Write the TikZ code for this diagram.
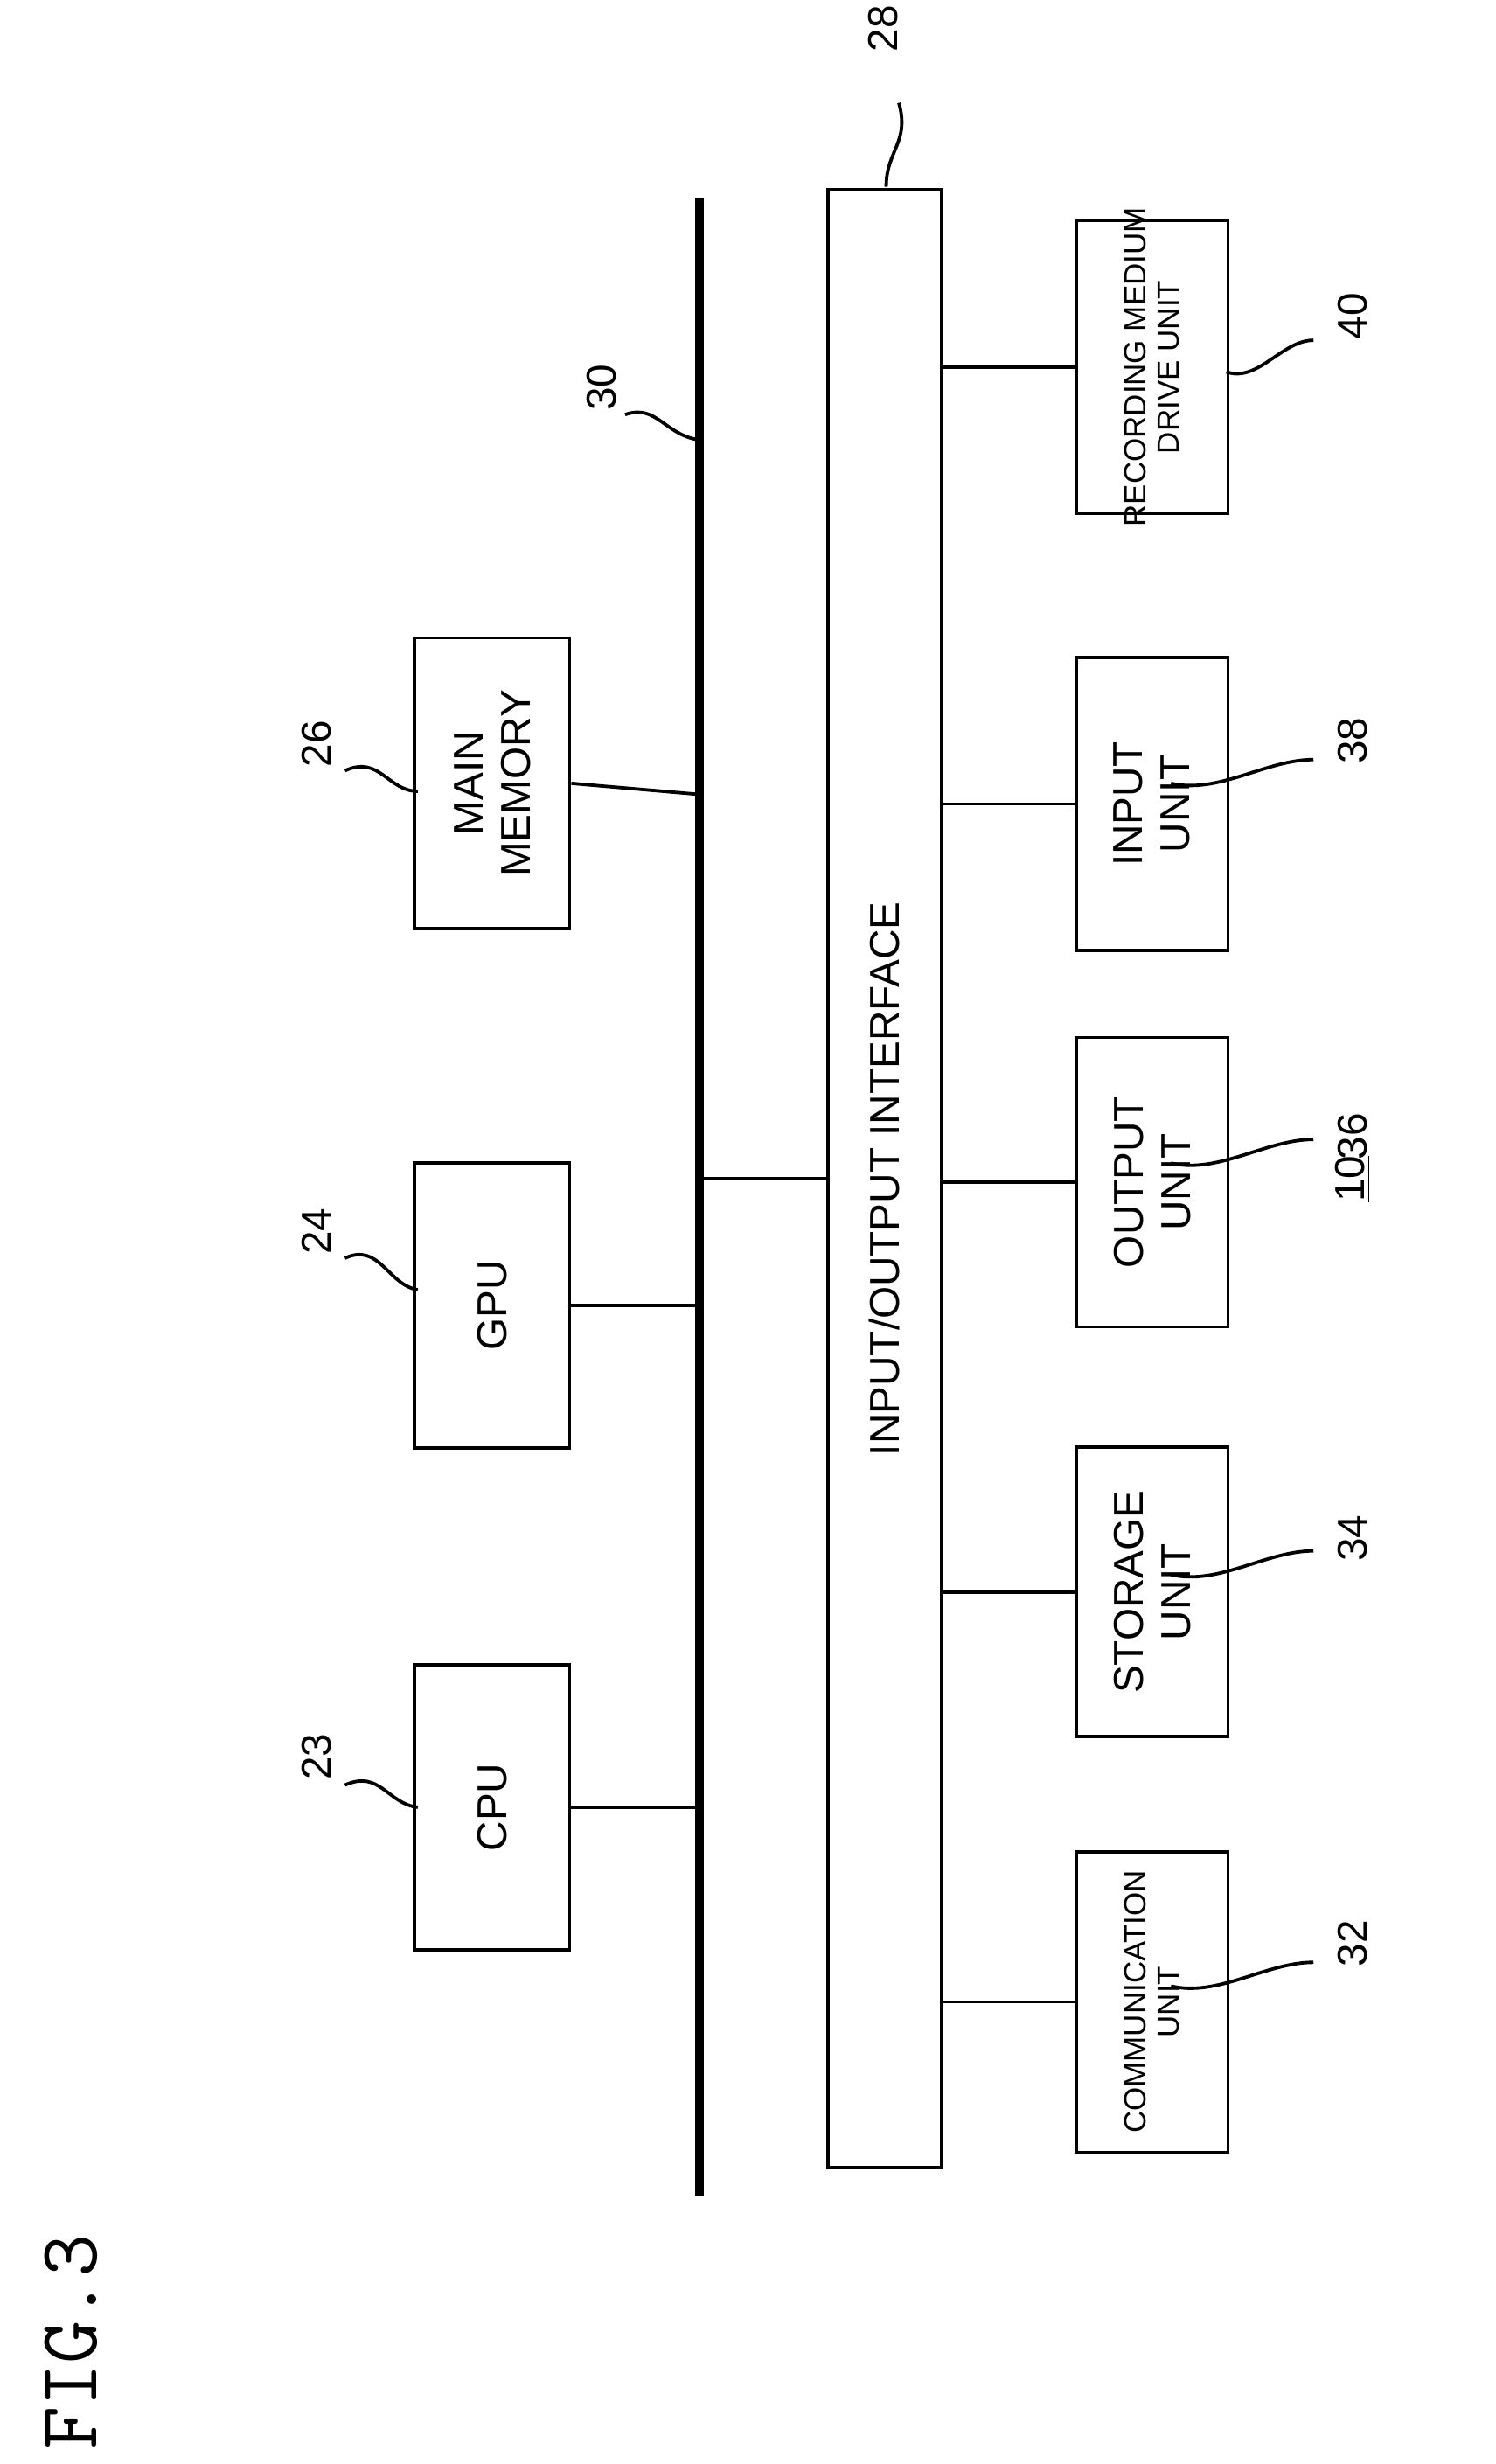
\documentclass[tikz,border=0pt]{standalone}
\usepackage{fontspec}
\setmainfont{Liberation Sans}
\begin{document}
\begin{tikzpicture}[x=0.02cm,y=-0.02cm,
 box/.style={draw,line width=1.2pt},
 ln/.style={line width=1.2pt},
 txt/.style={rotate=90,font=\fontsize{15}{17}\selectfont,align=center},
 stxt/.style={rotate=90,font=\fontsize{11}{12}\selectfont,align=center},
 lab/.style={rotate=90,font=\fontsize{15}{17}\selectfont},
 sq/.style={line width=1.2pt}]
\useasboundingbox (0,0) rectangle (945,1557);
% bus
\coordinate (bt) at (442,125); \coordinate (bb) at (442,1388);
\draw[line width=3pt] (bt) -- (bb);
% IO interface
\node[box,minimum width=1.44cm,minimum height=25cm] (io) at (559,745) {};
\node[txt] at (io) {INPUT/OUTPUT INTERFACE};
\draw[ln] (442,745) -- (io.west |- 0,745);
% upper boxes
\node[box,minimum width=1.96cm,minimum height=3.6cm] (cpu) at (311,1142) {}; \node[txt] at (cpu) {CPU};
\node[box,minimum width=1.96cm,minimum height=3.6cm] (gpu) at (311,825) {}; \node[txt] at (gpu) {GPU};
\node[box,minimum width=1.96cm,minimum height=3.68cm] (mem) at (311,495) {}; \node[txt] at (mem) {MAIN\\MEMORY};
\draw[ln] (cpu.east) -- (442,1142);
\draw[ln] (gpu.east) -- (442,825);
\draw[ln] (mem.east) -- (442,502);
% lower boxes
\node[box,minimum width=1.92cm,minimum height=3.8cm] (com) at (728,1265) {}; \node[stxt] at (com) {COMMUNICATION\\UNIT};
\node[box,minimum width=1.92cm,minimum height=3.66cm] (sto) at (728,1006) {}; \node[txt] at (sto) {STORAGE\\UNIT};
\node[box,minimum width=1.92cm,minimum height=3.66cm] (out) at (728,747) {}; \node[txt] at (out) {OUTPUT\\UNIT};
\node[box,minimum width=1.92cm,minimum height=3.7cm] (inp) at (728,508) {}; \node[txt] at (inp) {INPUT\\UNIT};
\node[box,minimum width=1.92cm,minimum height=3.7cm] (rec) at (728,232) {}; \node[stxt] at (rec) {RECORDING MEDIUM\\DRIVE UNIT};
\foreach \n in {com,sto,out,inp,rec} \draw[ln] (io.east |- \n.west) -- (\n.west);
% labels
\node[lab] (l23) at (200,1110) {23};
\node[lab] (l24) at (200,778) {24};
\node[lab] (l26) at (200,470) {26};
\node[lab] (l30) at (380,245) {30};
\node[lab] (l28) at (558,18) {28};
\node[lab] (l32) at (855,1228) {32};
\node[lab] (l34) at (855,972) {34};
\node[lab] (l36) at (855,718) {36};
\node[lab] (l38) at (855,468) {38};
\node[lab] (l40) at (855,200) {40};
\node[lab] (l10) at (855,745) {\underline{10}};
\node[rotate=90,font=\fontsize{30}{32}\selectfont\ttfamily] (fig) at (45,1480) {FIG.3};
% squiggles
\draw[sq] (218,1128) .. controls (240,1118) and (245,1140) .. (264,1142);
\draw[sq] (218,795) .. controls (240,785) and (245,812) .. (264,815);
\draw[sq] (218,487) .. controls (240,477) and (245,500) .. (264,500);
\draw[sq] (395,262) .. controls (415,255) and (420,275) .. (442,278);
\draw[sq] (560,118) .. controls (560,95) and (575,90) .. (568,65);
\draw[sq] (740,1255) .. controls (770,1262) and (800,1240) .. (830,1240);
\draw[sq] (740,995) .. controls (770,1002) and (800,980) .. (830,980);
\draw[sq] (740,735) .. controls (770,742) and (800,720) .. (830,720);
\draw[sq] (740,495) .. controls (770,502) and (800,480) .. (830,480);
\draw[sq] (775,235) .. controls (795,242) and (810,215) .. (830,215);
\end{tikzpicture}
\end{document}
